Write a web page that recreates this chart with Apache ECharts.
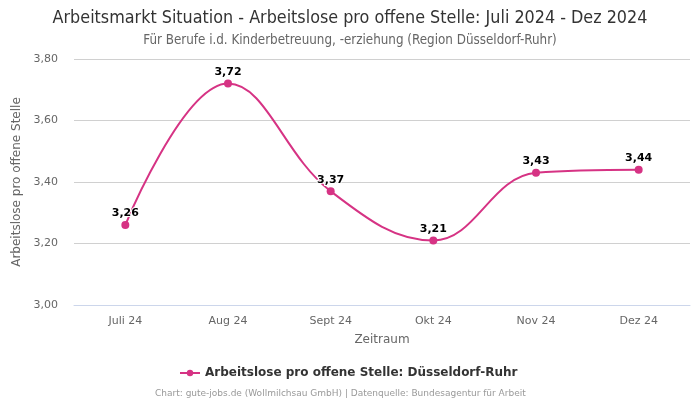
<!DOCTYPE html>
<html><head><meta charset="utf-8">
<script src="https://cdn.jsdelivr.net/npm/echarts@6/dist/echarts.min.js"></script>
<style>html,body{margin:0;padding:0;background:#fff}#c{width:700px;height:400px}</style>
</head><body><div id="c"></div>
<script>
const categories = ["Juli 24", "Aug 24", "Sept 24", "Okt 24", "Nov 24", "Dez 24"];
const values = [3.26, 3.72, 3.37, 3.21, 3.43, 3.44];
const seriesName = "Arbeitslose pro offene Stelle: Düsseldorf-Ruhr";
const fmt = v => v.toFixed(2).replace('.', ',');
const chart = echarts.init(document.getElementById('c'));
chart.setOption({
  animation: false,
  title: [
    {text: "Arbeitsmarkt Situation - Arbeitslose pro offene Stelle: Juli 2024 - Dez 2024", left: 'center', top: 4,
     textStyle: {fontFamily: 'DejaVu Sans Condensed', fontSize: 17.8, fontWeight: 'normal', color: '#333'}},
    {text: "Für Berufe i.d. Kinderbetreuung, -erziehung (Region Düsseldorf-Ruhr)", left: 'center', top: 29,
     textStyle: {fontFamily: 'DejaVu Sans Condensed', fontSize: 13.3, fontWeight: 'normal', color: '#666'}},
    {text: "Chart: gute-jobs.de (Wollmilchsau GmbH) | Datenquelle: Bundesagentur für Arbeit", left: 150, top: 384,
     textStyle: {fontFamily: 'DejaVu Sans', fontSize: 9, fontWeight: 'normal', color: '#999'}}
  ],
  legend: {bottom: 16, left: 174, itemWidth: 20, itemHeight: 8,
    textStyle: {fontFamily: 'DejaVu Sans', fontSize: 12, fontWeight: 'bold', color: '#333'}},
  grid: {left: 74, right: 10, top: 59, bottom: 95},
  xAxis: {type: 'category', data: categories, boundaryGap: true,
    name: 'Zeitraum', nameLocation: 'middle', nameGap: 29,
    nameTextStyle: {fontFamily: 'DejaVu Sans', fontSize: 12, color: '#666'},
    axisLine: {lineStyle: {color: '#ccd6eb'}}, axisTick: {show: false},
    axisLabel: {fontFamily: 'DejaVu Sans', fontSize: 11, color: '#666', margin: 11}},
  yAxis: {type: 'value', min: 3.0, max: 3.8, interval: 0.2,
    name: 'Arbeitslose pro offene Stelle', nameLocation: 'middle', nameGap: 44,
    nameTextStyle: {fontFamily: 'DejaVu Sans', fontSize: 12, color: '#666'},
    axisLabel: {formatter: fmt, fontFamily: 'DejaVu Sans', fontSize: 11, color: '#666', margin: 16},
    splitLine: {lineStyle: {color: '#d0d0d0'}}},
  series: [{name: seriesName, type: 'line', data: values, smooth: 0.4,
    symbol: 'circle', symbolSize: 8,
    itemStyle: {color: '#d63384'}, lineStyle: {color: '#d63384', width: 2},
    label: {show: true, position: 'top', distance: 2, formatter: p => fmt(p.value),
      fontFamily: 'DejaVu Sans', fontSize: 11, fontWeight: 'bold', color: '#000',
      textBorderColor: '#fff', textBorderWidth: 2}}]
});
</script></body></html>
